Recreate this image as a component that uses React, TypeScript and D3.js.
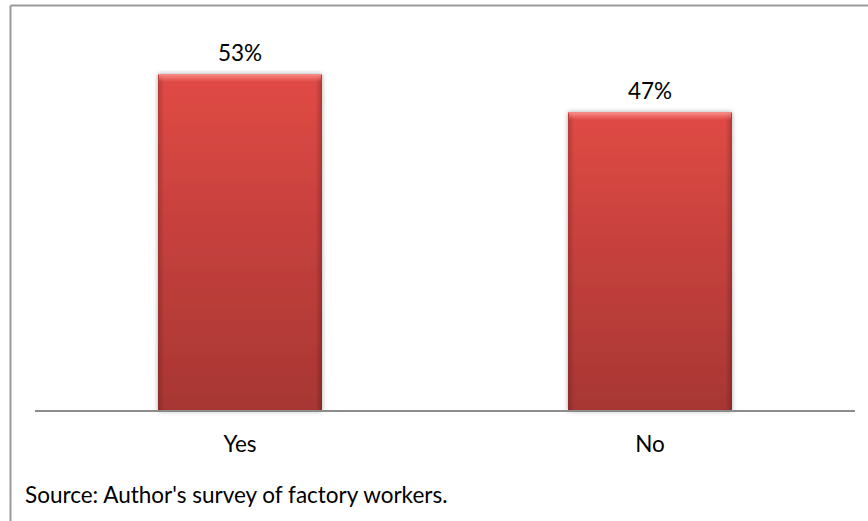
import React from "react";
import * as d3 from "d3";

const categories = ["Yes", "No"];
const values = [0.53, 0.47];
const valueLabels = ["53%", "47%"];
const sourceNote = "Source: Author's survey of factory workers.";

const W = 868;
const H = 521;
const plotLeft = 35;
const plotRight = 855;
const baseY = 411;
const topY = 29.5;

export default function App() {
  const x = d3.scaleBand<string>().domain(categories).range([plotLeft, plotRight]).paddingInner(0.6).paddingOuter(0.3);
  const y = d3.scaleLinear().domain([0, 0.6]).range([baseY, topY]);
  const font = "Lato, 'Open Sans', sans-serif";
  const fs = 22.5;
  return (
    <svg width={W} height={H} style={{ position: "absolute", left: 0, top: 0, background: "#fff" }}>
      <defs>
        <linearGradient id="vert" x1="0" y1="0" x2="0" y2="1">
          <stop offset="0" stopColor="#e04a45" />
          <stop offset="1" stopColor="#a73633" />
        </linearGradient>
        <linearGradient id="side" x1="0" y1="0" x2="1" y2="0">
          <stop offset="0" stopColor="#000" stopOpacity="0.18" />
          <stop offset="0.04" stopColor="#000" stopOpacity="0.0" />
          <stop offset="0.96" stopColor="#000" stopOpacity="0.0" />
          <stop offset="1" stopColor="#000" stopOpacity="0.22" />
        </linearGradient>
        <linearGradient id="topHi" x1="0" y1="0" x2="0" y2="1">
          <stop offset="0" stopColor="#ff9a94" stopOpacity="0.9" />
          <stop offset="1" stopColor="#ff8a84" stopOpacity="0" />
        </linearGradient>
        <filter id="shadow" x="-10%" y="-10%" width="120%" height="120%">
          <feGaussianBlur in="SourceAlpha" stdDeviation="2.5" />
          <feOffset dx="0" dy="0" result="b" />
          <feComponentTransfer>
            <feFuncA type="linear" slope="0.35" />
          </feComponentTransfer>
          <feMerge>
            <feMergeNode />
            <feMergeNode in="SourceGraphic" />
          </feMerge>
        </filter>
      </defs>
      <line x1={10.5} y1={5.5} x2={W} y2={5.5} stroke="#999" strokeWidth={2} />
      <line x1={10.5} y1={5.5} x2={10.5} y2={H} stroke="#999" strokeWidth={2} />
      {categories.map((c, i) => {
        const bx = x(c)!;
        const bw = x.bandwidth();
        const by = y(values[i]);
        const bh = baseY - by;
        return (
          <g key={c}>
            <rect x={bx} y={by} width={bw} height={bh} fill="url(#vert)" filter="url(#shadow)" />
            <rect x={bx} y={by} width={bw} height={bh} fill="url(#side)" />
            <rect x={bx + 1} y={by} width={bw - 2} height={8} fill="url(#topHi)" />
            <line x1={bx} y1={by + 0.5} x2={bx + bw} y2={by + 0.5} stroke="#f08a85" strokeWidth={1} />
            <text x={bx + bw / 2} y={by - 13} textAnchor="middle" fontFamily={font} fontSize={fs} fill="#000">
              {valueLabels[i]}
            </text>
            <text x={bx + bw / 2} y={452} textAnchor="middle" fontFamily={font} fontSize={fs} fill="#000">
              {c}
            </text>
          </g>
        );
      })}
      <line x1={plotLeft} y1={baseY} x2={plotRight} y2={baseY} stroke="#8c8c8c" strokeWidth={2} />
      <text x={25} y={503} fontFamily={font} fontSize={fs} fill="#000">
        {sourceNote}
      </text>
    </svg>
  );
}
